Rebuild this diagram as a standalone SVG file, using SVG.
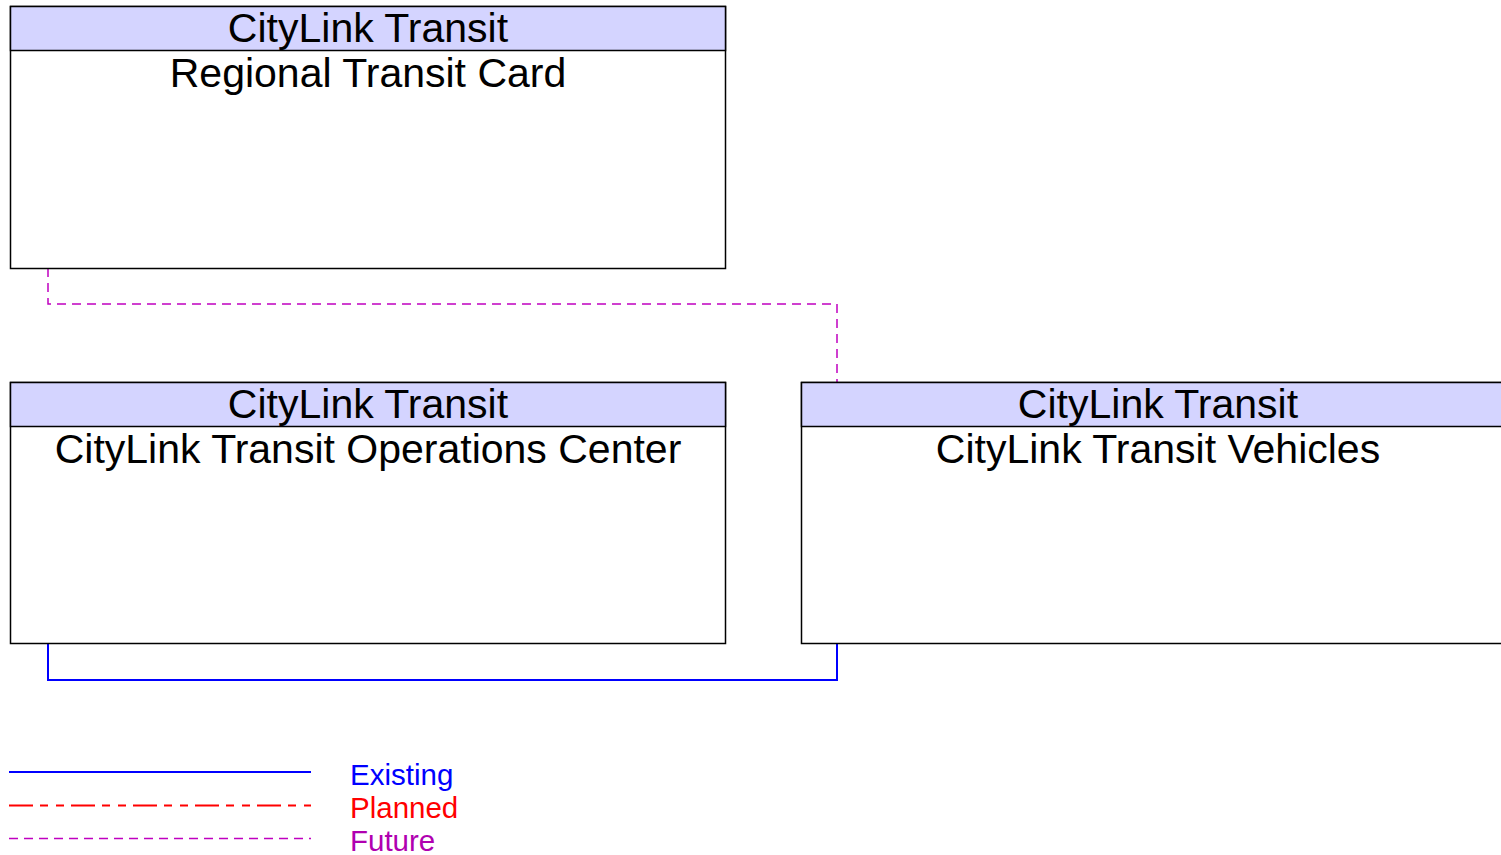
<svg xmlns="http://www.w3.org/2000/svg" width="1501" height="855" viewBox="0 0 1501 855">
<style>
.box{fill:#ffffff;stroke:#000000;stroke-width:1.5}
.hdr{fill:#d4d4ff;stroke:#000000;stroke-width:1.5}
.t{font-family:"Liberation Sans",Arial,sans-serif;font-size:41px;fill:#000000;text-anchor:middle}
.lg{font-family:"Liberation Sans",Arial,sans-serif;font-size:29.5px}
.existing{fill:none;stroke:#0000ff;stroke-width:2}
.planned{fill:none;stroke:#ff0000;stroke-width:2;stroke-dasharray:24,7,8,8,8,7}
.future{fill:none;stroke:#c000c0;stroke-width:1.5;stroke-dasharray:9,6}
</style>
<rect width="1501" height="855" fill="#ffffff"/>
<g id="connectors">
<polyline class="future" points="48,268 48,304 837,304 837,382"/>
<polyline class="existing" points="48,643 48,680 837,680 837,643"/>
</g>
<g id="node-regional-transit-card">
<rect class="box" x="10.5" y="6.5" width="715" height="262"/>
<rect class="hdr" x="10.5" y="6.5" width="715" height="44"/>
<text class="t" x="368" y="42">CityLink Transit</text>
<text class="t" x="368" y="87">Regional Transit Card</text>
</g>
<g id="node-operations-center">
<rect class="box" x="10.5" y="382.5" width="715" height="261"/>
<rect class="hdr" x="10.5" y="382.5" width="715" height="44"/>
<text class="t" x="368" y="418">CityLink Transit</text>
<text class="t" x="368" y="463">CityLink Transit Operations Center</text>
</g>
<g id="node-vehicles">
<rect class="box" x="801.5" y="382.5" width="715" height="261"/>
<rect class="hdr" x="801.5" y="382.5" width="715" height="44"/>
<text class="t" x="1158" y="418">CityLink Transit</text>
<text class="t" x="1158" y="463">CityLink Transit Vehicles</text>
</g>
<g id="legend">
<line class="existing" x1="9" y1="772" x2="311" y2="772" stroke-width="3"/>
<line class="planned" x1="9" y1="805.5" x2="311" y2="805.5"/>
<line class="future" x1="9" y1="838.5" x2="311" y2="838.5"/>
<text class="lg" x="350" y="785" fill="#0000ff">Existing</text>
<text class="lg" x="350" y="818" fill="#ff0000">Planned</text>
<text class="lg" x="350" y="851" fill="#b000b0">Future</text>
</g>
</svg>
